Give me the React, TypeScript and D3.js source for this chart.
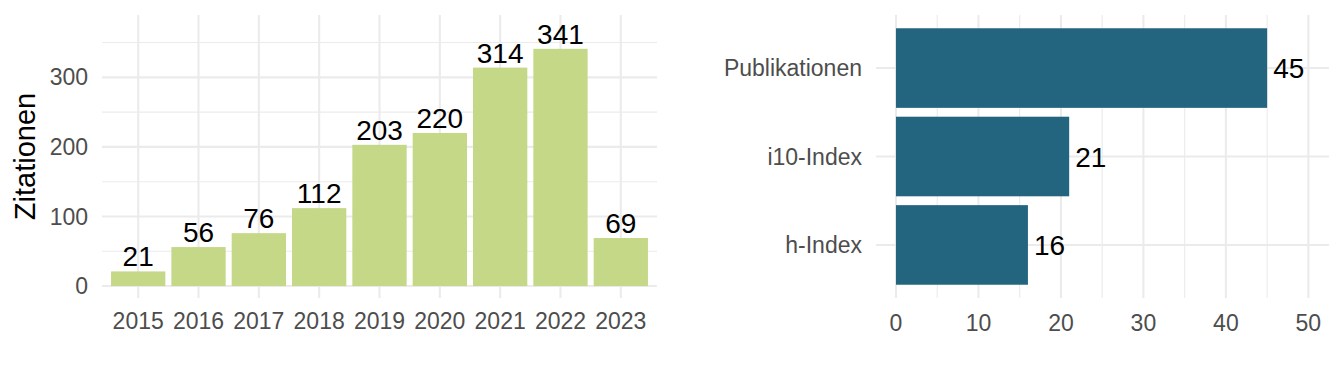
import * as d3 from 'd3';
import React, { useEffect, useRef } from 'react';

// citations per year
const years = ['2015', '2016', '2017', '2018', '2019', '2020', '2021', '2022', '2023'];
const citations = [21, 56, 76, 112, 203, 220, 314, 341, 69];

// metrics
const metrics = ['Publikationen', 'i10-Index', 'h-Index'];
const metricValues = [45, 21, 16];

const yTicks = [0, 100, 200, 300];
const yMinor = [50, 150, 250, 350];
const xTicks = [0, 10, 20, 30, 40, 50];
const xMinor = [5, 15, 25, 35, 45];

const GREEN = '#c4d888';
const BLUE = '#23647f';
const GRID = '#ebebeb';
const TICK = '#4d4d4d';
const FONT = '"Liberation Sans", Arial, Helvetica, sans-serif';

export default function App() {
  const svgRef = useRef<SVGSVGElement>(null);
  const W = 1344;
  const H = 384;

  useEffect(() => {
    const svg = d3.select(svgRef.current);
    svg.selectAll('*').remove();
    svg.style('font-family', FONT);

    // ---------- left panel: citations ----------
    const top = 15, bottom = 298;
    const l = { left: 102, right: 657 };

    const x = d3.scaleBand<string>()
      .domain(years)
      .range([l.left, l.right])
      .paddingInner(0.1)
      .paddingOuter(0.15);
    const y = d3.scaleLinear().domain([-17.2, 389.6]).range([bottom, top]);

    const left = svg.append('g');
    const grid = left.append('g');
    grid.selectAll('line.minor')
      .data(yMinor)
      .join('line')
      .attr('x1', l.left).attr('x2', l.right)
      .attr('y1', d => y(d)).attr('y2', d => y(d))
      .attr('stroke', GRID).attr('stroke-width', 1.1);
    grid.selectAll('line.major')
      .data(yTicks)
      .join('line')
      .attr('class', 'major')
      .attr('x1', l.left).attr('x2', l.right)
      .attr('y1', d => y(d)).attr('y2', d => y(d))
      .attr('stroke', GRID).attr('stroke-width', 2.1);
    grid.selectAll('line.vx')
      .data(years)
      .join('line')
      .attr('class', 'vx')
      .attr('x1', d => x(d)! + x.bandwidth() / 2).attr('x2', d => x(d)! + x.bandwidth() / 2)
      .attr('y1', top).attr('y2', bottom)
      .attr('stroke', GRID).attr('stroke-width', 2.1);

    left.append('g')
      .selectAll('rect')
      .data(years)
      .join('rect')
      .attr('x', d => x(d)!)
      .attr('width', x.bandwidth())
      .attr('y', (d, i) => y(citations[i]))
      .attr('height', (d, i) => y(0) - y(citations[i]))
      .attr('fill', GREEN);

    left.append('g')
      .selectAll('text')
      .data(years)
      .join('text')
      .attr('x', d => x(d)! + x.bandwidth() / 2)
      .attr('y', (d, i) => y(citations[i]) - 5)
      .attr('text-anchor', 'middle')
      .attr('font-size', 28)
      .attr('fill', '#000')
      .text((d, i) => citations[i]);

    // y tick labels
    left.append('g')
      .selectAll('text')
      .data(yTicks)
      .join('text')
      .attr('x', 88)
      .attr('y', d => y(d))
      .attr('dy', '0.35em')
      .attr('text-anchor', 'end')
      .attr('font-size', 23)
      .attr('fill', TICK)
      .text(d => d);

    // x tick labels
    left.append('g')
      .selectAll('text')
      .data(years)
      .join('text')
      .attr('x', d => x(d)! + x.bandwidth() / 2)
      .attr('y', 329)
      .attr('text-anchor', 'middle')
      .attr('font-size', 23)
      .attr('fill', TICK)
      .text(d => d);

    left.append('text')
      .attr('transform', `translate(35, ${(top + bottom) / 2}) rotate(-90)`)
      .attr('text-anchor', 'middle')
      .attr('font-size', 29)
      .attr('fill', '#000')
      .text('Zitationen');

    // ---------- right panel: metrics ----------
    const r = { left: 876, right: 1329 };
    const xr = d3.scaleLinear().domain([-2.42, 52.5]).range([r.left, r.right]);
    const yr = d3.scaleBand<string>()
      .domain(metrics)
      .range([top, bottom])
      .paddingInner(0.1)
      .paddingOuter(0.15);

    const right = svg.append('g');
    const rgrid = right.append('g');
    rgrid.selectAll('line.minor')
      .data(xMinor)
      .join('line')
      .attr('class', 'minor')
      .attr('x1', d => xr(d)).attr('x2', d => xr(d))
      .attr('y1', top).attr('y2', bottom)
      .attr('stroke', GRID).attr('stroke-width', 1.1);
    rgrid.selectAll('line.major')
      .data(xTicks)
      .join('line')
      .attr('class', 'major')
      .attr('x1', d => xr(d)).attr('x2', d => xr(d))
      .attr('y1', top).attr('y2', bottom)
      .attr('stroke', GRID).attr('stroke-width', 2.1);
    rgrid.selectAll('line.hy')
      .data(metrics)
      .join('line')
      .attr('class', 'hy')
      .attr('x1', r.left).attr('x2', r.right)
      .attr('y1', d => yr(d)! + yr.bandwidth() / 2).attr('y2', d => yr(d)! + yr.bandwidth() / 2)
      .attr('stroke', GRID).attr('stroke-width', 2.1);

    right.append('g')
      .selectAll('rect')
      .data(metrics)
      .join('rect')
      .attr('x', xr(0))
      .attr('y', d => yr(d)!)
      .attr('height', yr.bandwidth())
      .attr('width', (d, i) => xr(metricValues[i]) - xr(0))
      .attr('fill', BLUE);

    right.append('g')
      .selectAll('text')
      .data(metrics)
      .join('text')
      .attr('x', (d, i) => xr(metricValues[i]) + 6)
      .attr('y', d => yr(d)! + yr.bandwidth() / 2)
      .attr('dy', '0.36em')
      .attr('font-size', 28)
      .attr('fill', '#000')
      .text((d, i) => metricValues[i]);

    right.append('g')
      .selectAll('text')
      .data(metrics)
      .join('text')
      .attr('x', 862)
      .attr('y', d => yr(d)! + yr.bandwidth() / 2)
      .attr('dy', '0.35em')
      .attr('text-anchor', 'end')
      .attr('font-size', 23)
      .attr('fill', TICK)
      .text(d => d);

    right.append('g')
      .selectAll('text')
      .data(xTicks)
      .join('text')
      .attr('x', d => xr(d))
      .attr('y', 330.5)
      .attr('text-anchor', 'middle')
      .attr('font-size', 23)
      .attr('fill', TICK)
      .text(d => d);
  }, []);

  return (
    <svg
      ref={svgRef}
      width={W}
      height={H}
      style={{ position: 'absolute', left: 0, top: 0, background: '#fff' }}
    />
  );
}
